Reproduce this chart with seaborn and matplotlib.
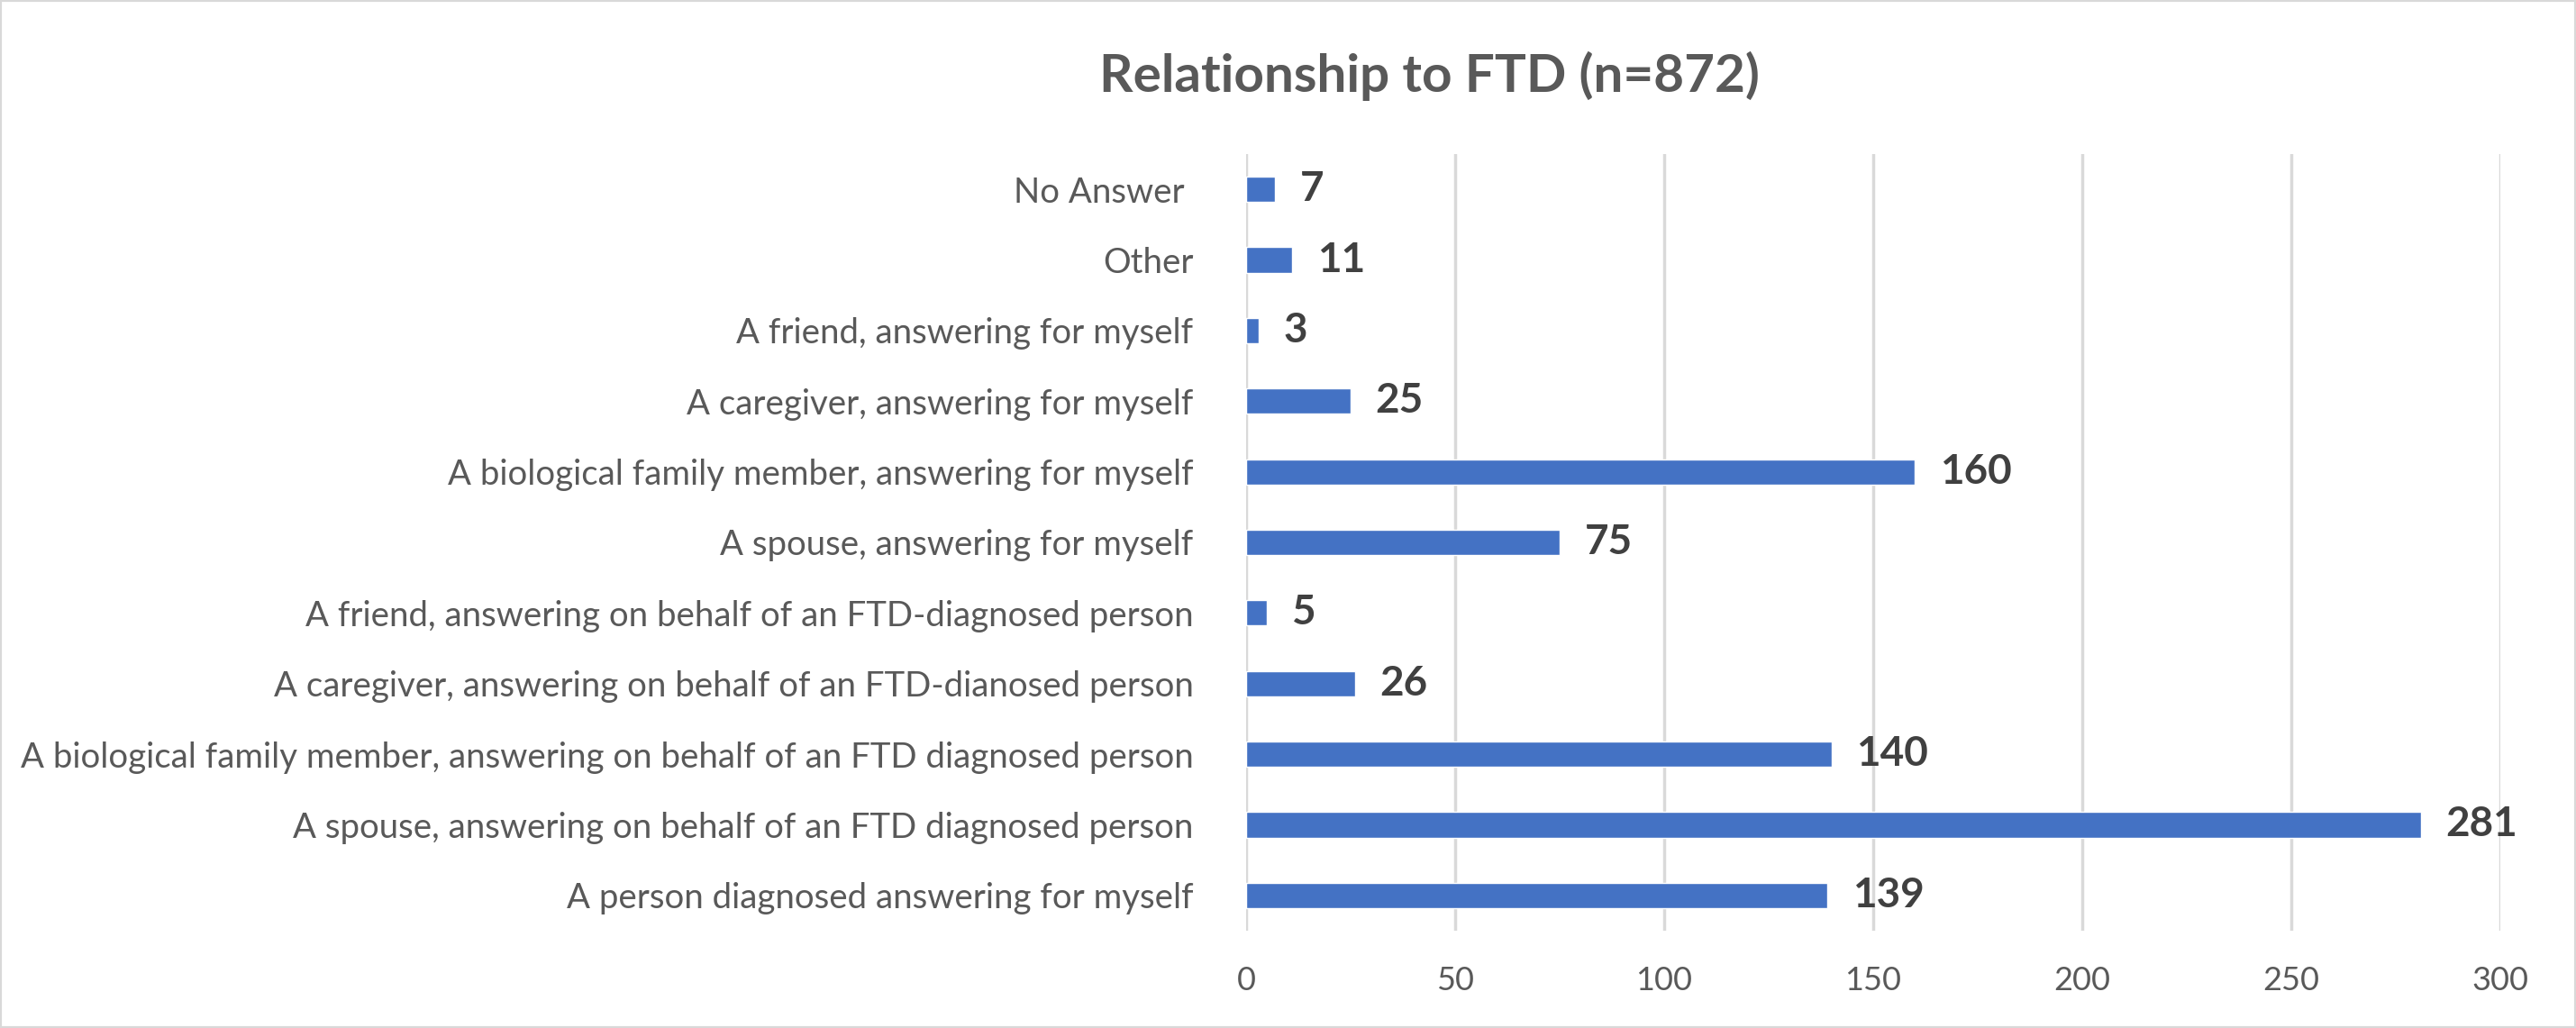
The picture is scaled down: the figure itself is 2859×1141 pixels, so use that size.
import matplotlib
matplotlib.use("Agg")
import matplotlib.pyplot as plt
import seaborn as sns
import pandas as pd
from matplotlib.patches import Rectangle

categories = [
    "No Answer ",
    "Other",
    "A friend, answering for myself",
    "A caregiver, answering for myself",
    "A biological family member, answering for myself",
    "A spouse, answering for myself",
    "A friend, answering on behalf of an FTD-diagnosed person",
    "A caregiver, answering on behalf of an FTD-dianosed person",
    "A biological family member, answering on behalf of an FTD diagnosed person",
    "A spouse, answering on behalf of an FTD diagnosed person",
    "A person diagnosed answering for myself",
]
counts = [7, 11, 3, 25, 160, 75, 5, 26, 140, 281, 139]
x_ticks = [0, 50, 100, 150, 200, 250, 300]

df = pd.DataFrame({"Relationship": categories, "Count": counts})

sns.set_theme(style="white")
plt.rcParams["font.family"] = ["Lato", "DejaVu Sans"]

fig = plt.figure(figsize=(28.59, 11.41), dpi=100)
ax = fig.add_axes([0.4837, 0.0947, 0.4869, 0.7554])

sns.barplot(data=df, x="Count", y="Relationship", orient="h",
            color="#4472C4", saturation=1, width=0.36, ax=ax)

ax.set_xlim(0, 300)
ax.set_xticks(x_ticks)
ax.grid(axis="x", color="#d9d9d9", linewidth=2.5)
ax.grid(axis="y", visible=False)
ax.set_axisbelow(True)
for s in ax.spines.values():
    s.set_visible(False)
ax.set_xlabel("")
ax.set_ylabel("")
ax.tick_params(axis="x", length=0, pad=28, labelsize=26, labelcolor="#595959")
ax.tick_params(axis="y", length=0, pad=42, labelsize=27.6, labelcolor="#595959")

ax.bar_label(ax.containers[0], padding=20, fontsize=33, fontweight="bold", color="#404040")

fig.text(0.555, 0.926, "Relationship to FTD (n=872)", ha="center", va="center",
         fontsize=42, fontweight="bold", color="#595959")

fig.patches.append(Rectangle((0, 0), 1, 1, transform=fig.transFigure, fill=False,
                             edgecolor="#d9d9d9", linewidth=3))

fig.savefig("out.png", dpi=100)
